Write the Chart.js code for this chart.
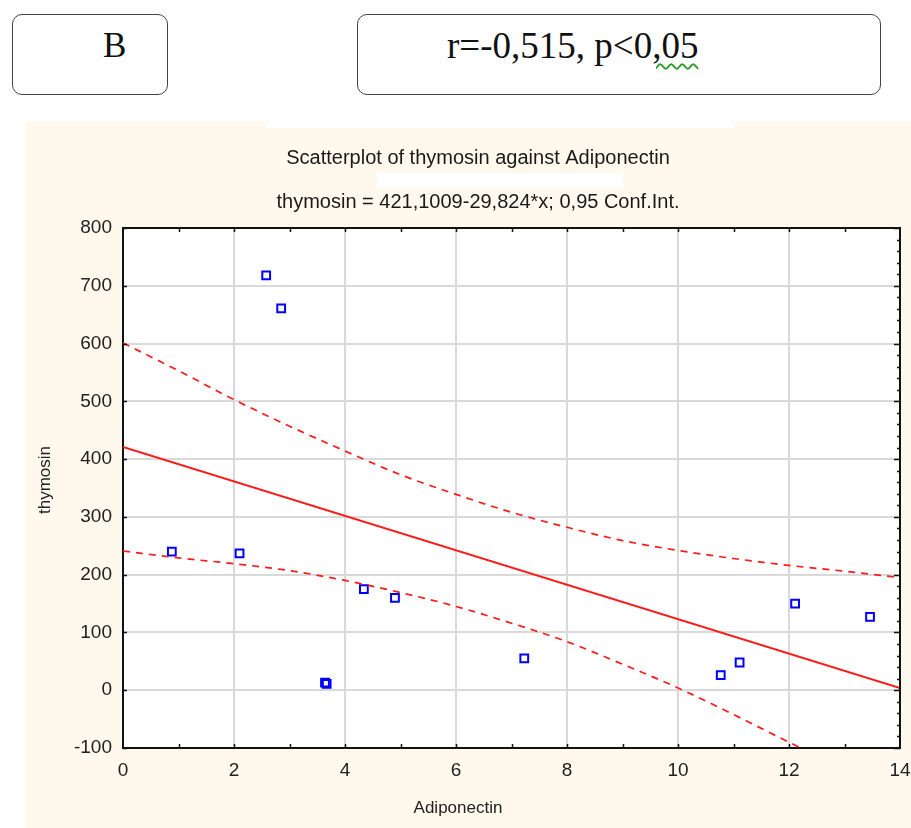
<!DOCTYPE html>
<html><head><meta charset="utf-8">
<script src="https://cdn.jsdelivr.net/npm/chart.js@4.4.0/dist/chart.umd.min.js"></script>
<style>
html,body{margin:0;padding:0;background:#fff;width:911px;height:828px;overflow:hidden;position:relative;}
.box{position:absolute;border:1.5px solid #444;border-radius:10px;box-sizing:border-box;}
#b1{left:12px;top:14px;width:156px;height:81px;}
#b2{left:357px;top:14px;width:524px;height:81px;}
.lab{position:absolute;font-family:'Liberation Serif',serif;color:#111;white-space:nowrap;line-height:1;}
#t1{left:103px;top:28px;font-size:35px;}
#t2{left:447px;top:27px;font-size:37px;}
.wavy{text-decoration:underline wavy #2e9e2e;text-decoration-thickness:1.5px;text-underline-offset:5px;}
#wrap{position:absolute;left:25px;top:122px;width:886px;height:706px;background:#fff8ec;overflow:hidden;}
#wb{position:absolute;left:352px;top:51px;width:246px;height:15px;background:#fff;}
#notch{position:absolute;left:265px;top:122px;width:470px;height:6px;background:#fff;}
canvas{position:absolute;left:0;top:0;}
</style>
</head><body>
<div class="box" id="b1"></div>
<div class="box" id="b2"></div>
<div class="lab" id="t1">B</div>
<div class="lab" id="t2">r=-0,515, p&lt;0<span class="wavy">,05</span></div>
<div id="wrap"><div id="wb"></div><canvas id="c" width="886" height="706"></canvas></div>
<div id="notch"></div>
<script>
// ---- data ----
const adiponectin = [0.88, 2.10, 2.58, 2.85, 3.64, 3.67, 4.34, 4.90, 7.23, 10.77, 11.11, 12.11, 13.46];
const thymosin    = [240, 237, 718, 661, 13, 11, 175, 160, 55, 26, 48, 150, 127];
const fitX = [0, 14];
const fitY = [421.1, 3.56];
const ciX     = [0, 1, 2, 3, 4, 5, 6, 7, 8, 9, 10, 11, 12, 13, 14];
const ciUpper = [601, 553, 503, 457, 414, 373, 339, 308, 282, 259, 242, 228, 216, 206, 195];
const ciLower = [241, 229, 219, 207, 190, 169, 145, 116, 84, 45, 4, -42, -90, -137, -188];
const xTicks = [0, 2, 4, 6, 8, 10, 12, 14];
const yTicks = [-100, 0, 100, 200, 300, 400, 500, 600, 700, 800];
const xTitle = 'Adiponectin';
const yTitle = 'thymosin';

const pts = (xs, ys) => xs.map((x, i) => ({x: x, y: ys[i]}));
const FONT = "'Liberation Sans', Arial, sans-serif";

const frame = {
  id: 'frame',
  beforeDraw(chart) {
    const a = chart.chartArea, ctx = chart.ctx;
    ctx.save(); ctx.fillStyle = '#fff';
    ctx.fillRect(a.left, a.top, a.right - a.left, a.bottom - a.top);
    ctx.restore();
  },
  afterDraw(chart) {
    const a = chart.chartArea, ctx = chart.ctx;
    const xs = chart.scales.x, ys = chart.scales.y;
    ctx.save();
    ctx.strokeStyle = '#111'; ctx.lineWidth = 2;
    ctx.beginPath();
    ctx.moveTo(a.left, a.top); ctx.lineTo(a.right, a.top); ctx.lineTo(a.right, a.bottom);
    ctx.stroke();
    ctx.lineWidth = 1.5;
    ctx.beginPath();
    for (let v = 1; v < 14; v++) {
      const px = Math.round(xs.getPixelForValue(v)) + 0.5;
      ctx.moveTo(px, a.bottom); ctx.lineTo(px, a.bottom - 4);
      ctx.moveTo(px, a.top); ctx.lineTo(px, a.top + 4);
    }
    for (let v = -100; v <= 800; v += 20) {
      const py = Math.round(ys.getPixelForValue(v)) + 0.5;
      const len = (v % 100 === 0) ? 6 : 3;
      ctx.moveTo(a.right, py); ctx.lineTo(a.right - len, py);
      if (v % 100 === 0) { ctx.moveTo(a.left, py); ctx.lineTo(a.left + 4, py); }
    }
    ctx.stroke();
    // axis titles (placed as in the original, slightly off-centre)
    ctx.fillStyle = '#222';
    ctx.font = "17px " + FONT;
    ctx.textAlign = 'center'; ctx.textBaseline = 'middle';
    ctx.fillText(xTitle, 433, 686);
    ctx.translate(20, 358); ctx.rotate(-Math.PI / 2);
    ctx.fillText(yTitle, 0, 0);
    ctx.restore();
  }
};

new Chart(document.getElementById('c'), {
  type: 'scatter',
  data: {
    datasets: [
      { type: 'line', data: pts(ciX, ciUpper), borderColor: '#ff1a1a', borderWidth: 1.7,
        borderDash: [7, 6], pointRadius: 0, cubicInterpolationMode: 'monotone', fill: false },
      { type: 'line', data: pts(ciX, ciLower), borderColor: '#ff1a1a', borderWidth: 1.7,
        borderDash: [7, 6], pointRadius: 0, cubicInterpolationMode: 'monotone', fill: false },
      { type: 'line', data: pts(fitX, fitY), borderColor: '#ff1a1a', borderWidth: 2,
        pointRadius: 0, fill: false },
      { data: pts(adiponectin, thymosin), pointStyle: 'rect', pointRadius: 5.5,
        borderColor: '#0000ff', borderWidth: 2, backgroundColor: 'rgba(0,0,0,0)' }
    ]
  },
  options: {
    responsive: false, animation: false,
    layout: { padding: { left: 31, right: 11, top: 0, bottom: 0 } },
    plugins: {
      legend: { display: false }, tooltip: { enabled: false },
      title: { display: true, text: 'Scatterplot of thymosin against Adiponectin',
        font: { family: FONT, size: 20, weight: 'normal' }, color: '#1a1a1a',
        padding: { top: 24, bottom: 10 } },
      subtitle: { display: true, text: 'thymosin = 421,1009-29,824*x; 0,95 Conf.Int.',
        font: { family: FONT, size: 20, weight: 'normal' }, color: '#1a1a1a',
        padding: { top: 10, bottom: 14 } }
    },
    scales: {
      x: { type: 'linear', min: 0, max: 14,
        afterBuildTicks: s => { s.ticks = xTicks.map(v => ({value: v})); },
        afterFit: s => { s.height = 80; s.paddingRight = 0; },
        ticks: { font: { family: FONT, size: 19 }, color: '#222', padding: 11, maxRotation: 0 },
        grid: { color: '#d9d9d9', lineWidth: 2, drawTicks: false },
        border: { color: '#111', width: 2 },
        title: { display: false } },
      y: { type: 'linear', min: -100, max: 800,
        afterBuildTicks: s => { s.ticks = yTicks.map(v => ({value: v})); },
        afterFit: s => { s.width = 67; },
        ticks: { font: { family: FONT, size: 19 }, color: '#222', padding: 11 },
        grid: { color: '#d9d9d9', lineWidth: 2, drawTicks: false },
        border: { color: '#111', width: 2 },
        title: { display: false } }
    }
  },
  plugins: [frame]
});
</script>
</body></html>
